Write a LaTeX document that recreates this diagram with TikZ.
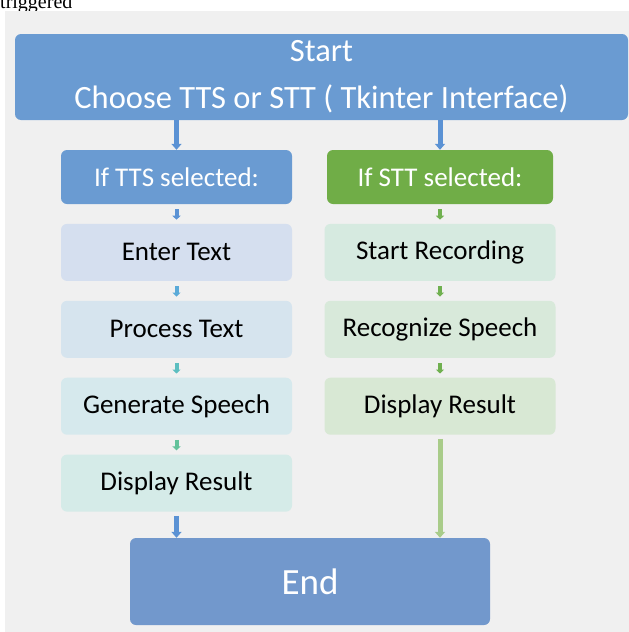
\documentclass[tikz,border=0pt]{standalone}
\usepackage{fontspec}
\setmainfont{Carlito}
\newfontfamily\docfont{Liberation Serif}
\usetikzlibrary{arrows.meta, positioning}
\definecolor{panelgray}{RGB}{240,240,240}
\definecolor{headblue}{RGB}{106,155,210}
\definecolor{headgreen}{RGB}{112,173,71}
\definecolor{endblue}{RGB}{114,152,204}
\definecolor{ttsone}{RGB}{213,223,239}
\definecolor{ttstwo}{RGB}{214,228,238}
\definecolor{ttsthree}{RGB}{214,233,237}
\definecolor{ttsfour}{RGB}{213,235,232}
\definecolor{sttone}{RGB}{214,234,224}
\definecolor{stttwo}{RGB}{216,233,218}
\definecolor{sttthree}{RGB}{216,232,212}
\definecolor{arrblue}{RGB}{91,146,212}
\definecolor{arrcyan}{RGB}{90,170,216}
\definecolor{arrteal}{RGB}{92,190,192}
\definecolor{arrmint}{RGB}{98,194,154}
\definecolor{arrgreen}{RGB}{112,176,80}
\definecolor{arrlight}{RGB}{169,204,138}

\begin{document}
\begin{tikzpicture}[x=1pt, y=-1pt,
    box/.style={rounded corners=6pt, minimum width=231pt, minimum height=57pt,
                inner sep=0pt, font=\fontsize{27}{30}\selectfont},
    head/.style={box, minimum height=54pt, text=white},
    bigarr/.style={line width=5pt, -{Triangle[length=6pt,width=10pt]}},
    smallarr/.style={line width=4pt, shorten <=5pt, shorten >=4pt,
                     -{Triangle[length=4pt,width=8pt]}},
    node distance=19.5pt]
  \useasboundingbox (0,0) rectangle (629,632);
  \node[anchor=base west, inner sep=0pt, font=\docfont\fontsize{20}{24}\selectfont] (note) at (0,8) {triggered};
  \fill[panelgray] (5,11) rectangle (629,632);

  % top and bottom
  \node[rounded corners=6pt, fill=headblue, text=white, minimum width=613pt, minimum height=86pt,
        align=center, font=\fontsize{32.5}{47}\selectfont] (start) at (321.5,77)
        {Start\\Choose TTS or STT ( Tkinter Interface)};
  \node[rounded corners=6pt, fill=endblue, text=white, minimum width=360pt, minimum height=87pt,
        font=\fontsize{37}{40}\selectfont] (end) at (310,581.5) {End};

  % TTS column
  \node[head, fill=headblue] (tts) at (176.5,177) {If TTS selected:};
  \node[box, fill=ttsone, below=of tts] (enter) {Enter Text};
  \node[box, fill=ttstwo, below=of enter] (process) {Process Text};
  \node[box, fill=ttsthree, below=of process] (generate) {Generate Speech};
  \node[box, fill=ttsfour, below=of generate] (tdisplay) {Display Result};

  % STT column
  \node[head, fill=headgreen, minimum width=226pt] (stt) at (440,177) {If STT selected:};
  \node[box, fill=sttone, below=of stt] (record) {Start Recording};
  \node[box, fill=stttwo, below=of record] (recognize) {Recognize Speech};
  \node[box, fill=sttthree, below=of recognize] (sdisplay) {Display Result};

  % arrows
  \draw[bigarr, arrblue] (start.south -| tts) -- (tts);
  \draw[bigarr, arrblue] (start.south -| stt) -- (stt);
  \draw[smallarr, arrblue] (tts) -- (enter);
  \draw[smallarr, arrcyan] (enter) -- (process);
  \draw[smallarr, arrteal] (process) -- (generate);
  \draw[smallarr, arrmint] (generate) -- (tdisplay);
  \draw[smallarr, arrgreen] (stt) -- (record);
  \draw[smallarr, arrgreen] (record) -- (recognize);
  \draw[smallarr, arrgreen] (recognize) -- (sdisplay);
  \draw[bigarr, arrblue, shorten <=4pt] (tdisplay) -- (tdisplay |- end.north);
  \draw[bigarr, arrlight, shorten <=4pt] (sdisplay) -- (sdisplay |- end.north);
\end{tikzpicture}
\end{document}
